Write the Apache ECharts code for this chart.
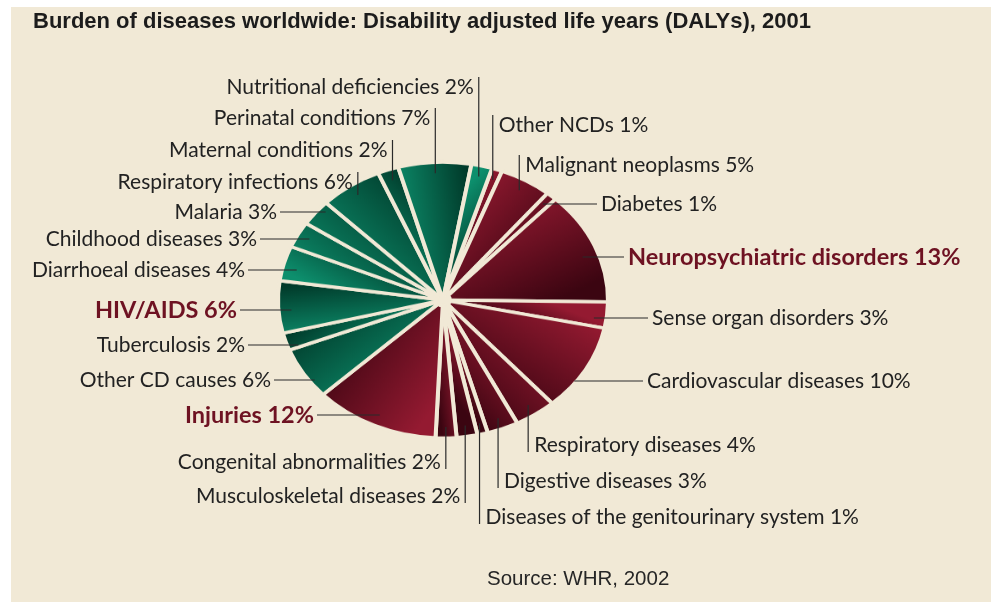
<!DOCTYPE html>
<html><head><meta charset="utf-8">
<script src="https://cdn.jsdelivr.net/npm/echarts@6/dist/echarts.min.js"></script>
<style>
html,body{margin:0;padding:0;background:#fff;overflow:hidden;width:991px;height:605px}
#frame{position:absolute;left:11px;top:7px;width:980px;height:595px;background:#f1e9d6}
#pie{position:absolute;left:0;top:0;width:991px;height:724px;transform-origin:0 0}
#labels{position:absolute;left:0;top:0;width:991px;height:605px}
</style></head><body>
<div id="frame"></div><div id="pie"></div><div id="labels"></div>
<script>
// ---------- data ----------
const categories = [
  'Other NCDs', 'Malignant neoplasms', 'Diabetes', 'Neuropsychiatric disorders',
  'Sense organ disorders', 'Cardiovascular diseases', 'Respiratory diseases',
  'Digestive diseases', 'Diseases of the genitourinary system', 'Musculoskeletal diseases',
  'Congenital abnormalities', 'Injuries', 'Other CD causes', 'Tuberculosis', 'HIV/AIDS',
  'Diarrhoeal diseases', 'Childhood diseases', 'Malaria', 'Respiratory infections',
  'Maternal conditions', 'Perinatal conditions', 'Nutritional deficiencies'
];
const values = [1, 5, 1, 13, 3, 10, 4, 3, 1, 2, 2, 12, 6, 2, 6, 4, 3, 3, 6, 2, 7, 2];
const groups = ['ncd','ncd','ncd','ncd','ncd','ncd','ncd','ncd','ncd','ncd','ncd','inj',
  'cd','cd','cd','cd','cd','cd','cd','cd','cd','cd'];
const highlighted = ['Neuropsychiatric disorders', 'HIV/AIDS', 'Injuries'];
const titleText = 'Burden of diseases worldwide: Disability adjusted life years (DALYs), 2001';
const sourceText = 'Source: WHR, 2002';

// ---------- layout / style ----------
const CX = 443, CY = 300, RX = 165, RY = 138, S = RY / RX, START = 72.7, K = 0.92;
const BG = '#f1e9d6';
const labelPlace = [
  {m:'v', side:'R', y:125}, {m:'v', side:'R', y:165}, {m:'h', side:'R', y:204, lx:597},
  {m:'h', side:'R', y:257, lx:624}, {m:'h', side:'R', y:318, lx:648}, {m:'h', side:'R', y:381, lx:643},
  {m:'v', side:'R', y:445}, {m:'v', side:'R', y:481}, {m:'v', side:'R', y:517},
  {m:'v', side:'L', y:496}, {m:'v', side:'L', y:462}, {m:'h', side:'L', y:415, lx:317},
  {m:'h', side:'L', y:380, lx:274}, {m:'h', side:'L', y:345, lx:248}, {m:'h', side:'L', y:310, lx:240},
  {m:'h', side:'L', y:270, lx:248}, {m:'h', side:'L', y:239, lx:260}, {m:'h', side:'L', y:212, lx:280},
  {m:'v', side:'L', y:182}, {m:'v', side:'L', y:150}, {m:'v', side:'L', y:118}, {m:'v', side:'L', y:87}
];
const palette = {
  cd:  ['#0d8f6d', '#013a2a'],
  ncd: ['#941a31', '#3b0511'],
  inj: ['#941a31', '#3b0511']
};
const LABEL_FONT = 'Lato, "Open Sans", "Noto Sans", sans-serif';

const total = values.reduce((a, b) => a + b, 0);
function sliceColor(i) {
  let before = 0;
  for (let j = 0; j < i; j++) before += values[j];
  const mid = before + values[i] / 2;
  const phi = ((90 - START) + mid / total * 360) * Math.PI / 180;
  const c = Math.cos(phi), s = Math.sin(phi);
  const p = palette[groups[i]];
  return new echarts.graphic.LinearGradient(0.5 - 0.5 * c, 0.5 - 0.5 * s, 0.5 + 0.5 * c, 0.5 + 0.5 * s,
    [{offset: 0, color: p[0]}, {offset: 1, color: p[1]}]);
}

// ---------- pie (drawn in a vertically squeezed layer -> ellipse) ----------
const pieDom = document.getElementById('pie');
pieDom.style.transform = 'scaleY(' + S + ')';
const pieChart = echarts.init(pieDom, null, {renderer: 'canvas'});
pieChart.setOption({
  animation: false,
  series: [{
    type: 'pie',
    center: [CX, CY / S],
    radius: [7, RX],
    startAngle: START,
    silent: true,
    label: {show: false},
    labelLine: {show: false},
    itemStyle: {borderColor: BG, borderWidth: 4},
    data: categories.map((n, i) => ({name: n, value: values[i], itemStyle: {color: sliceColor(i)}}))
  }]
});

// ---------- labels, title, source ----------
const labChart = echarts.init(document.getElementById('labels'), null, {renderer: 'canvas'});
labChart.setOption({
  animation: false,
  title: [
    {text: titleText, left: 33, top: 11, padding: 0,
     textStyle: {fontFamily: '"Liberation Sans", Arial, sans-serif', fontWeight: 'bold', fontSize: 22, color: '#1c1c1c'}},
    {text: sourceText, left: 487, top: 569, padding: 0,
     textStyle: {fontFamily: '"Liberation Sans", Arial, sans-serif', fontWeight: 'normal', fontSize: 20.5, color: '#262626'}}
  ],
  series: [{
    type: 'pie',
    center: [CX, CY],
    radius: [7, RX],
    startAngle: START,
    silent: true,
    avoidLabelOverlap: false,
    itemStyle: {color: 'rgba(0,0,0,0)'},
    label: {show: true, position: 'outside', formatter: '{b} {c}%',
      fontFamily: LABEL_FONT, fontSize: 21, color: '#222222'},
    labelLine: {show: true, length: 5, length2: 5, lineStyle: {color: '#2a2a2a', width: 1.2}},
    labelLayout: function (p) {
      const i = p.dataIndex;
      const spec = labelPlace[i];
      const p0 = p.labelLinePoints ? p.labelLinePoints[0] : [CX, CY - RX];
      const dx = p0[0] - CX, dy = p0[1] - CY;
      const len = Math.hypot(dx, dy) || 1;
      const ax = CX + K * RX * dx / len, ay = CY + K * RY * dy / len;
      let x, y, align, pts;
      if (spec.m === 'h') {
        pts = [[ax, spec.y], [spec.lx, spec.y]];
        x = spec.side === 'R' ? spec.lx + 4 : spec.lx - 3;
        y = spec.y;
      } else {
        const endY = spec.y < CY ? spec.y - 10 : spec.y + 7;
        pts = [[ax, ay], [ax, endY]];
        x = spec.side === 'R' ? ax + 6 : ax - 5;
        y = spec.y;
      }
      align = spec.side === 'R' ? 'left' : 'right';
      return {x: x, y: y, align: align, verticalAlign: 'middle', labelLinePoints: pts};
    },
    data: categories.map((n, i) => {
      const d = {name: n, value: values[i]};
      if (highlighted.indexOf(n) >= 0) d.label = {fontWeight: 'bold', color: '#6e1222', fontSize: 23.5};
      return d;
    })
  }]
});
</script>
</body></html>
